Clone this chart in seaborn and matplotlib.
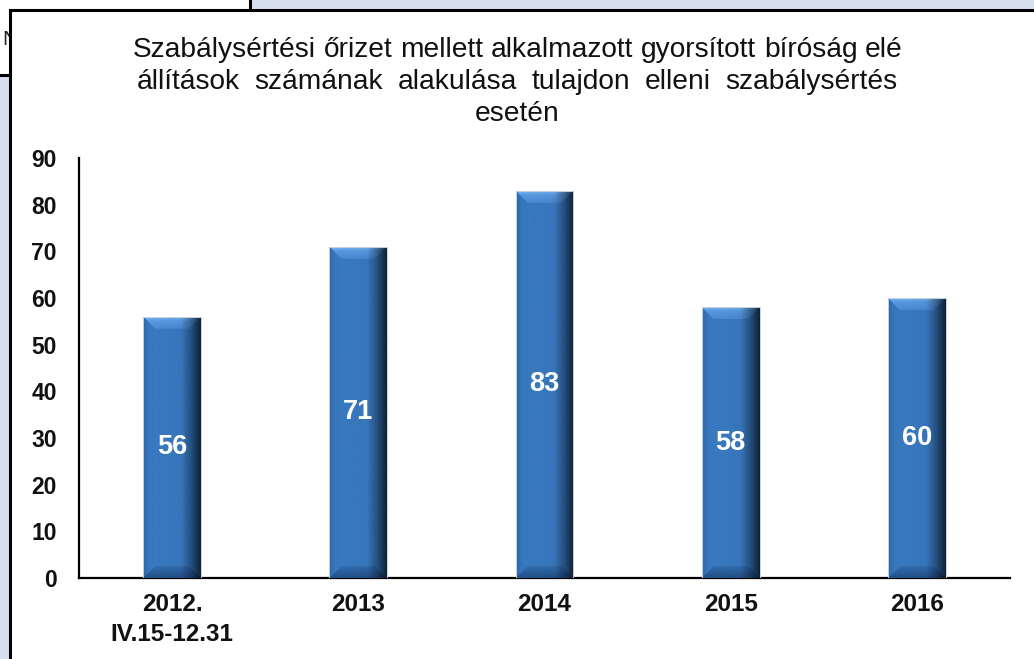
import numpy as np
import pandas as pd
import matplotlib
matplotlib.use("Agg")
import matplotlib.pyplot as plt
import seaborn as sns
from matplotlib.patches import Rectangle, Polygon
from matplotlib.colors import to_rgb

# ---- data ----
categories = ["2012.\nIV.15-12.31", "2013", "2014", "2015", "2016"]
values = [56, 71, 83, 58, 60]
title_lines = [
    "Szabálysértési őrizet mellett alkalmazott gyorsított bíróság elé",
    "állítások számának alakulása tulajdon elleni szabálysértés",
    "esetén",
]
y_ticks = list(range(0, 100, 10))

W, H = 1034, 659
sns.set_theme(style="white")
plt.rcParams["font.family"] = ["Liberation Sans", "DejaVu Sans"]

fig = plt.figure(figsize=(W / 100, H / 100), dpi=100)
fig.patch.set_facecolor("#d6dfee")


def px_rect(x0, y0, x1, y1, **kw):
    """Rectangle in pixel units measured from the top-left corner."""
    return Rectangle((x0 / W, 1 - y1 / H), (x1 - x0) / W, (y1 - y0) / H,
                     transform=fig.transFigure, **kw)


# slide panels behind the chart
fig.patches.append(px_rect(-10, -10, 250, 75, facecolor="white",
                           edgecolor="black", lw=2.2, zorder=0))
fig.text(2 / W, 1 - 45 / H, "N", fontsize=15, zorder=1, va="baseline",
         color="#222222")
fig.patches.append(px_rect(10, 10, W + 10, H + 10, facecolor="white",
                           edgecolor="black", lw=2.2, zorder=2))

# ---- axes ----
ax = fig.add_axes([79 / W, 1 - 578 / H, (1010 - 79) / W, (578 - 158) / H])
ax.set_zorder(5)
ax.patch.set_alpha(0)

df = pd.DataFrame({"period": categories, "count": values})
sns.barplot(data=df, x="period", y="count", color="#3a7bc2", width=0.31,
            saturation=1, ax=ax, zorder=2)

ax.set_xlim(-0.5, 4.5)
ax.set_ylim(0, 90)
ax.set_yticks(y_ticks)
ax.set_xlabel("")
ax.set_ylabel("")
for s in ["top", "right"]:
    ax.spines[s].set_visible(False)
for s in ["left", "bottom"]:
    ax.spines[s].set_color("black")
    ax.spines[s].set_linewidth(1.6)
ax.tick_params(axis="both", length=0)
ax.tick_params(axis="y", labelsize=16.5, pad=16)
ax.tick_params(axis="x", labelsize=17.5, pad=11)
for lab in ax.get_yticklabels() + ax.get_xticklabels():
    lab.set_fontweight("bold")
    lab.set_color("#111111")
for lab in ax.get_xticklabels():
    lab.set_linespacing(1.35)

# ---- bevelled bar shading ----
dx = 12 * 5 / 931      # bevel size in data units (x)
dy = 12 * 90 / 420     # bevel size in data units (y)


def hgrad(stops, n=200):
    t = np.linspace(0, 1, n)
    pos = [p for p, _ in stops]
    cols = np.array([to_rgb(c) for _, c in stops])
    return np.stack([np.interp(t, pos, cols[:, k]) for k in range(3)], axis=-1)


base = hgrad([(0, "#2c66a6"), (0.09, "#3877bd"), (0.2, "#3a7bc2"), (1, "#3a7bc2")])
top_grad = hgrad([(0, "#4a8ad2"), (0.7, "#5a9ce4"), (1, "#79b7f4")])
bot_grad = hgrad([(0, "#3470b2"), (1, "#22508a")])

alpha = np.interp(np.linspace(0, 1, 200), [0, 0.66, 0.84, 1], [0, 0.05, 0.42, 0.85])
shade = np.zeros((1, 200, 4))
shade[..., :3] = to_rgb("#07101d")
shade[..., 3] = alpha

bars = list(ax.containers[0])
for p in bars:
    x0, w, h = p.get_x(), p.get_width(), p.get_height()
    p.set_edgecolor("none")
    im = ax.imshow(base[None, :, :], extent=[x0, x0 + w, 0, h], aspect="auto",
                   zorder=3, interpolation="bilinear")
    im.set_clip_path(p)
    top = Polygon([(x0, h), (x0 + w, h), (x0 + w - dx, h - dy), (x0 + dx, h - dy)],
                  closed=True, facecolor="none", edgecolor="none")
    ax.add_patch(top)
    im_t = ax.imshow(top_grad[::-1][:, None, :], extent=[x0, x0 + w, h - dy, h],
                     aspect="auto", zorder=4, interpolation="bilinear")
    im_t.set_clip_path(top)
    bot = Polygon([(x0, 0), (x0 + w, 0), (x0 + w - dx, dy), (x0 + dx, dy)],
                  closed=True, facecolor="none", edgecolor="none")
    ax.add_patch(bot)
    im_b = ax.imshow(bot_grad[:, None, :], extent=[x0, x0 + w, 0, dy],
                     aspect="auto", zorder=4, interpolation="bilinear")
    im_b.set_clip_path(bot)
    im_s = ax.imshow(shade, extent=[x0, x0 + w, 0, h], aspect="auto",
                     zorder=5, interpolation="bilinear")
    im_s.set_clip_path(p)
    ax.add_patch(Rectangle((x0, 0), w, h, facecolor="none",
                           edgecolor="#c9d3df", lw=0.7, zorder=6))

ax.set_xlim(-0.5, 4.5)
ax.set_ylim(0, 90)

labels = ax.bar_label(ax.containers[0], label_type="center", color="white",
                      fontsize=19.5, fontweight="bold")
for t in labels:
    t.set_zorder(8)

# ---- title, set as a justified text block ----
fig.canvas.draw()
renderer = fig.canvas.get_renderer()

# pick the size at which the first line fills its width with plain spaces
probe = fig.text(0, 0, title_lines[0], fontsize=20)
natural = probe.get_window_extent(renderer).width
probe.remove()
title_fs = 20 * (903 - 133) / natural


def justified(line, x0, x1, baseline, fs):
    words = line.split()
    arts = [fig.text(0, 1 - baseline / H, wd, fontsize=fs, va="baseline",
                     ha="left", color="#111111", zorder=6) for wd in words]
    widths = [a.get_window_extent(renderer).width for a in arts]
    gap = (x1 - x0 - sum(widths)) / (len(words) - 1)
    x = x0
    for a, wd in zip(arts, widths):
        a.set_x(x / W)
        x += wd + gap


justified(title_lines[0], 133, 903, 57, title_fs)
justified(title_lines[1], 137, 897, 89, title_fs)
fig.text(517 / W, 1 - 121 / H, title_lines[2], fontsize=title_fs, ha="center",
         va="baseline", color="#111111", zorder=6)

fig.savefig("out.png", dpi=100, facecolor=fig.get_facecolor())
